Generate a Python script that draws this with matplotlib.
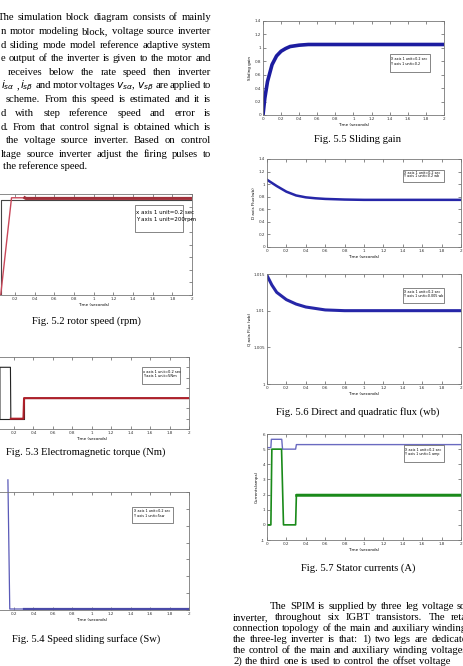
import matplotlib
matplotlib.use("Agg")
import matplotlib.pyplot as plt
from matplotlib.patches import Rectangle

W, H = 464, 666
SERIF = "Liberation Serif"
BODY = 7.7

# page text (visible fragments of the scanned page)
left_lines = [
    "The simulation block diagram consists of mainly",
    "n motor modeling block, voltage source inverter",
    "d sliding mode model reference adaptive system",
    "e output of the inverter is given to the motor and",
    "receives below the rate speed then inverter",
    r"$i_{s\alpha}$ , $i_{s\beta}$ and motor voltages $v_{s\alpha}$, $v_{s\beta}$ are applied to",
    "scheme. From this speed is estimated and it is",
    "d with step reference speed and error is",
    "d. From that control signal is obtained which is",
    "the voltage source inverter. Based on control",
    "ltage source inverter adjust the firing pulses to",
]
left_last = "the reference speed."
right_lines = [
    "The SPIM is supplied by three leg voltage so",
    "inverter, throughout six IGBT transistors. The reta",
    "connection topology of the main and auxiliary winding",
    "the three-leg inverter is that: 1) two legs are dedicate",
    "the control of the main and auxiliary winding voltages",
    "2) the third one is used to control the offset voltage",
]

time_ticks = [0, 0.2, 0.4, 0.6, 0.8, 1.0, 1.2, 1.4, 1.6, 1.8, 2.0]
time_labels = ["0", "0.2", "0.4", "0.6", "0.8", "1", "1.2", "1.4", "1.6", "1.8", "2"]

# Fig 5.2 rotor speed (rpm)
speed_ref_t = [0, 0.055, 0.055, 2.0]
speed_ref = [0, 0, 1500, 1500]
speed_t = [0, 0.055, 0.165, 0.3, 0.31, 2.0]
speed = [0, 0, 1540, 1540, 1530, 1530]
speed_yticks = [0, 200, 400, 600, 800, 1000, 1200, 1400, 1600]

# Fig 5.3 electromagnetic torque (Nm)
load_t = [0, 0.3, 0.3, 2.0]
load = [0, 0, 10, 10]
te_t = [0, 0.055, 0.055, 0.163, 0.167, 0.297, 0.303, 2.0]
te = [0, 0, 25, 25, 0, 0, 10, 10]
torque_yticks = [-5, 0, 5, 10, 15, 20, 25, 30]

# Fig 5.4 speed sliding surface
sw_t = [0.137, 0.156, 0.3, 2.0]
sw = [38.6, 0.3, 0.3, 0.3]
sw_yticks = [0, 5, 10, 15, 20, 25, 30, 35]

# Fig 5.5 sliding gain
gain_t = [0, 0.02, 0.05, 0.1, 0.15, 0.2, 0.25, 0.3, 0.4, 0.5, 0.7, 1.0, 1.5, 2.0]
gain = [0, 0.25, 0.5, 0.75, 0.88, 0.95, 0.99, 1.02, 1.04, 1.05, 1.05, 1.05, 1.05, 1.05]
unit_ticks = [0, 0.2, 0.4, 0.6, 0.8, 1.0, 1.2, 1.4]
unit_labels = ["0", "0.2", "0.4", "0.6", "0.8", "1", "1.2", "1.4"]

# Fig 5.6 direct and quadratic flux (wb)
fd_t = [0, 0.05, 0.1, 0.2, 0.3, 0.4, 0.5, 0.6, 0.8, 1.0, 1.4, 2.0]
fd = [1.07, 1.02, 0.97, 0.88, 0.82, 0.79, 0.775, 0.765, 0.755, 0.75, 0.75, 0.75]
fq_t = [0, 0.05, 0.1, 0.2, 0.3, 0.4, 0.6, 0.8, 1.0, 2.0]
fq = [1.0148, 1.0135, 1.0125, 1.0115, 1.0109, 1.0105, 1.0101, 1.01, 1.01, 1.01]
fq_ticks = [1.0, 1.005, 1.01, 1.015]
fq_labels = ["1", "1.005", "1.01", "1.015"]

# Fig 5.7 stator currents (A)
ia_t = [0, 0.04, 0.045, 0.152, 0.16, 0.295, 0.303, 2.0]
ia = [5.1, 5.1, 5.65, 5.65, 5.0, 5.0, 5.3, 5.3]
ib_t = [0, 0.04, 0.05, 0.15, 0.17, 0.295, 0.303, 2.0]
ib = [0, 0, 5, 5, 0, 0, 2, 2]
cur_ticks = [-1, 0, 1, 2, 3, 4, 5, 6]


fig = plt.figure(figsize=(W / 100, H / 100), dpi=100)
fig.patch.set_facecolor("white")
renderer = fig.canvas.get_renderer()


def fx(x):
    return x / W


def fy(y):
    return 1 - y / H


def justify(text, x0, x1, y, size=BODY):
    # spread the words so the line fills x0..x1 (y is the baseline, in pixels)
    words = text.split()
    widths = []
    for w in words:
        t = fig.text(0, 0, w, fontsize=size, family=SERIF)
        widths.append(t.get_window_extent(renderer).width)
        t.remove()
    gap = (x1 - x0 - sum(widths)) / max(len(words) - 1, 1)
    x = x0
    for w, wd in zip(words, widths):
        fig.text(fx(x), fy(y), w, fontsize=size, family=SERIF, va="baseline", ha="left")
        x += wd + gap


def px_axes(l, t, r, b):
    return fig.add_axes([fx(l), fy(b), (r - l) / W, (b - t) / H])


def setup(ax, ylim, yticks, ylabels, ylabel="", cut_left=False):
    ax.set_xlim(0, 2)
    ax.set_xticks(time_ticks)
    ax.set_xticklabels([""] + time_labels[1:] if cut_left else time_labels)
    ax.set_ylim(*ylim)
    ax.set_yticks(yticks)
    ax.set_yticklabels(ylabels)
    ax.tick_params(direction="in", length=2, width=0.4, top=True, right=True,
                   labelsize=3, pad=1.5, colors="#333333")
    if cut_left:
        # the page crops these panels on the left
        ax.tick_params(labelleft=False)
    for s in ax.spines.values():
        s.set_linewidth(0.6)
        s.set_color("#777777")
    ax.set_xlabel("Time (seconds)", fontsize=3, labelpad=1.5)
    ax.set_ylabel(ylabel, fontsize=3, labelpad=1.5)


def note(l, t, r, b, lines, size):
    fig.add_artist(Rectangle((fx(l), fy(b)), (r - l) / W, (b - t) / H,
                             transform=fig.transFigure, fc="white", ec="#555555",
                             lw=0.5, zorder=5))
    h = b - t
    for i, line in enumerate(lines):
        fig.text(fx(l + 1.5), fy(t + h * (0.27 + 0.27 * i)), line, fontsize=size,
                 va="center", ha="left", zorder=6)


def caption(x, y, text):
    fig.text(fx(x), fy(y), text, fontsize=7.6, family=SERIF, ha="center", va="center")


# ---- body text ----
left_y = [17.3, 31.3, 44.7, 58.3, 72, 85.3, 99.3, 113.3, 127, 140.3, 154]
left_x0 = [-2, 1, 1, 1, 8, 1, 6, 1, 1, 6, 1]
for line, y, x0 in zip(left_lines, left_y, left_x0):
    justify(line, x0, 211, y + 2.8)
fig.text(fx(3), fy(166.7 + 2.8), left_last, fontsize=BODY, family=SERIF, va="baseline")

right_y = [606, 617, 628, 639, 650, 661]
right_x0 = [270, 233, 233, 233, 233, 233]
right_x1 = [466, 467, 467, 467, 466, 450]
for line, y, x0, x1 in zip(right_lines, right_y, right_x0, right_x1):
    justify(line, x0, x1, y + 2.8)

# ---- Fig 5.2 ----
ax = px_axes(-4.7, 194, 192, 295)
ax.plot(speed_ref_t, speed_ref, color="#444444", lw=0.8)
ax.plot(speed_t, speed, color="#c8485a", lw=1.0)
ax.plot(speed_t[3:], speed[3:], color="#a0303a", lw=2.2)
setup(ax, (0, 1600), speed_yticks, [str(v) for v in speed_yticks], cut_left=True)
note(134.5, 205, 183, 232, ["x axis 1 unit=0.2 sec", "Y axis 1 unit=200rpm"], 4.0)
caption(86, 321, "Fig. 5.2 rotor speed (rpm)")

# ---- Fig 5.3 ----
ax = px_axes(-5.4, 357, 189, 429)
ax.plot(load_t, load, color="#222222", lw=0.8)
ax.plot(te_t, te, color="#222222", lw=0.8)
ax.plot(te_t[4:], te[4:], color="#b0202a", lw=1.5)
setup(ax, (-5, 30), torque_yticks, [str(v) for v in torque_yticks], cut_left=True)
note(142, 367, 180, 384, ["x axis 1 unit=0.2 sec", "Y axis 1 unit=5Nm"], 2.6)
caption(86, 452, "Fig. 5.3 Electromagnetic torque (Nm)")

# ---- Fig 5.4 ----
ax = px_axes(-5.4, 492, 189, 610)
ax.plot(sw_t, sw, color="#5a5ab8", lw=0.9, clip_on=False)
ax.plot(sw_t[2:], sw[2:], color="#4a4aa8", lw=1.6)
setup(ax, (0, 35), sw_yticks, [str(v) for v in sw_yticks], cut_left=True)
note(132, 507, 173, 523, ["X axis 1 unit=0.2 sec", "Y axis 1 unit=5sw"], 2.4)
caption(86, 639, "Fig. 5.4 Speed sliding surface (Sw)")

# ---- Fig 5.5 ----
ax = px_axes(263, 21, 444, 115)
ax.plot(gain_t, gain, color="#1c1ca0", lw=2.6)
setup(ax, (0, 1.4), unit_ticks, unit_labels, "Sliding gain")
note(390, 54, 430, 72, ["X axis 1 unit=0.2 sec", "Y axis 1 unit=0.2"], 2.4)
caption(358, 140, "Fig. 5.5 Sliding gain")

# ---- Fig 5.6 ----
ax = px_axes(267, 159, 461, 247)
ax.plot(fd_t, fd, color="#2626a8", lw=1.8)
setup(ax, (0, 1.4), unit_ticks, unit_labels, "D axis Flux(wb)")
note(403, 170, 444, 182, ["X axis 1 unit=0.2 sec", "Y axis 1 unit=0.2 wb"], 2.4)

ax = px_axes(267, 274, 461, 384)
ax.plot(fq_t, fq, color="#2626a8", lw=2.2)
setup(ax, (1.0, 1.015), fq_ticks, fq_labels, "Q axis Flux (wb)")
note(403, 288, 444, 303, ["X axis 1 unit=0.2 sec", "Y axis 1 unit=0.005 wb"], 2.4)
caption(358, 412, "Fig. 5.6 Direct and quadratic flux (wb)")

# ---- Fig 5.7 ----
ax = px_axes(267, 434, 461, 540)
ax.plot(ia_t, ia, color="#6a6ac0", lw=1.0)
ax.plot(ib_t, ib, color="#1a8a1a", lw=1.2)
ax.plot(ib_t[6:], ib[6:], color="#1a8a1a", lw=1.8)
setup(ax, (-1, 6), cur_ticks, [str(v) for v in cur_ticks], "Currents(amps)")
note(404, 445, 444, 462, ["X axis 1 unit=0.2 sec", "Y axis 1 unit=1 amp"], 2.4)
caption(358, 568, "Fig. 5.7 Stator currents (A)")

fig.savefig("out.png", dpi=100)
